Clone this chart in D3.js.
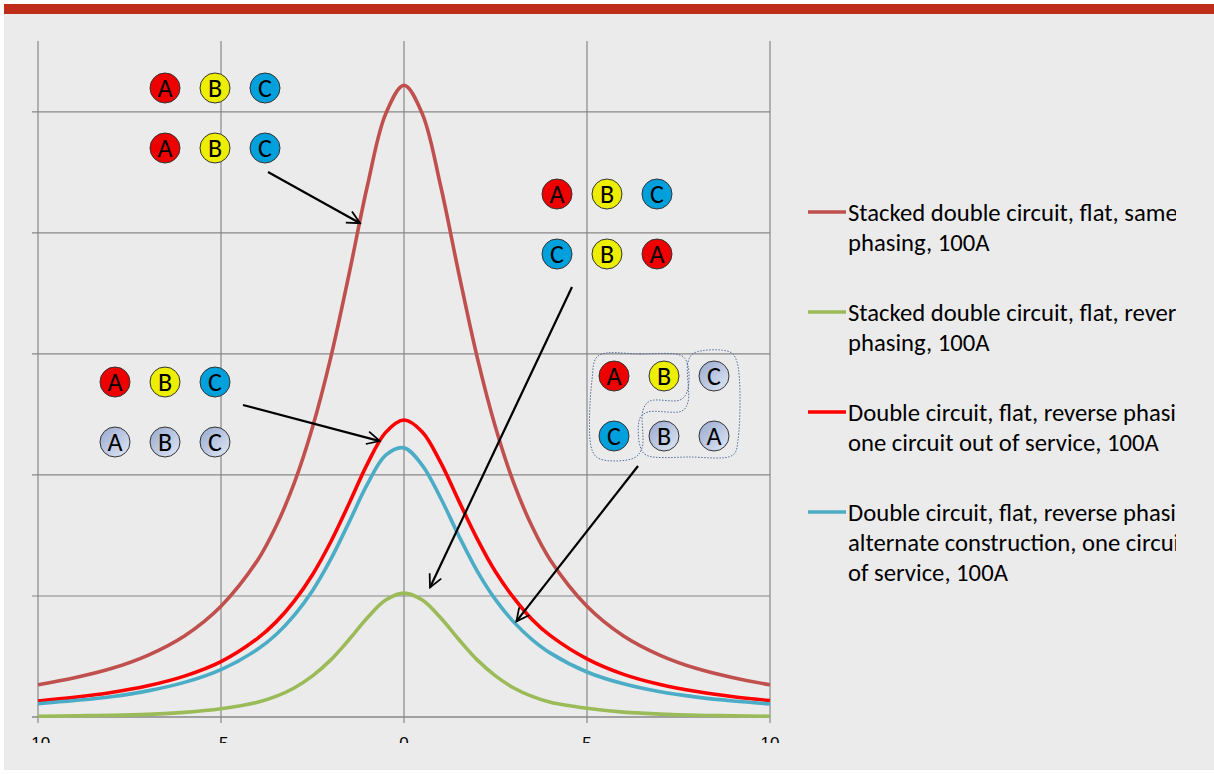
<!DOCTYPE html>
<html><head><meta charset="utf-8">
<script src="https://cdn.jsdelivr.net/npm/d3@7"></script>
<style>html,body{margin:0;padding:0;background:#fff;}svg{display:block;}</style>
</head><body>
<svg id="chart" width="1214" height="774"></svg>
<script>
// ---------- data ----------
const xValues = [-10,-9,-8,-7,-6,-5,-4,-3.5,-3,-2.5,-2,-1.5,-1,-0.5,0,0.5,1,1.5,2,2.5,3,3.5,4,5,6,7,8,9,10];
const stackedSame = [1.33,1.62,2.0,2.55,3.35,4.58,6.48,7.87,9.66,11.97,14.86,18.31,21.95,24.92,26.1,24.92,21.95,18.31,14.86,11.97,9.66,7.87,6.48,4.58,3.35,2.55,2.0,1.62,1.33];
const stackedReverse = [0.03,0.05,0.07,0.11,0.19,0.34,0.61,0.85,1.20,1.70,2.36,3.20,4.10,4.83,5.12,4.83,4.10,3.20,2.36,1.70,1.20,0.85,0.61,0.36,0.2,0.12,0.07,0.05,0.03];
const oneOut = [0.66,0.81,1.01,1.29,1.69,2.29,3.25,3.92,4.79,5.88,7.24,8.82,10.46,11.76,12.27,11.78,10.52,8.92,7.36,6.0,4.92,4.03,3.36,2.40,1.76,1.34,1.05,0.84,0.68];
const alternate = [0.55,0.68,0.84,1.08,1.43,1.96,2.80,3.40,4.20,5.22,6.52,8.05,9.62,10.82,11.12,10.40,9.05,7.48,6.03,4.85,3.92,3.20,2.64,1.86,1.37,1.04,0.82,0.66,0.54];
const xTicks = [-10,-5,0,5,10];
const yTicks = [0,5,10,15,20,25];
const seriesNames = [
  ["Stacked double circuit, flat, same", "phasing, 100A"],
  ["Stacked double circuit, flat, reverse", "phasing, 100A"],
  ["Double circuit, flat, reverse phasing,", "one circuit out of service, 100A"],
  ["Double circuit, flat, reverse phasing,", "alternate construction, one circuit out", "of service, 100A"]
];
const seriesColors = ["#C0504D", "#9BBB59", "#FF0000", "#4BACC6"];
const seriesData = [stackedSame, stackedReverse, oneOut, alternate];
// conductor arrangements (phase letters; "g" suffix = de-energised / grey)
const groupSame = [["A","B","C"],["A","B","C"]];
const groupReverse = [["A","B","C"],["C","B","A"]];
const groupOneOut = [["A","B","C"],["Ag","Bg","Cg"]];
const groupAlt = [["A","B","Cg"],["C","Bg","Ag"]];

// ---------- setup ----------
const svg = d3.select("#chart");
const W = 1214, H = 774;
svg.append("rect").attr("x",0).attr("y",0).attr("width",W).attr("height",H).attr("fill","#ffffff");
svg.append("rect").attr("x",4).attr("y",14).attr("width",W-4).attr("height",756).attr("fill","#ebebeb");
svg.append("rect").attr("x",4).attr("y",4).attr("width",W-4).attr("height",10).attr("fill","#be2e1a");

const defs = svg.append("defs");
const grad = defs.append("linearGradient").attr("id","greyBall").attr("x1","0").attr("y1","0").attr("x2","1").attr("y2","1");
grad.append("stop").attr("offset","0%").attr("stop-color","#97a9d0");
grad.append("stop").attr("offset","100%").attr("stop-color","#e2e8f4");
defs.append("clipPath").attr("id","xlabClip").append("rect").attr("x",0).attr("y",724).attr("width",800).attr("height",19);
defs.append("clipPath").attr("id","legClip").append("rect").attr("x",790).attr("y",150).attr("width",386).attr("height",500);
const mk = defs.append("marker").attr("id","arrow").attr("viewBox","0 0 20 20").attr("refX",18).attr("refY",10)
  .attr("markerWidth",16).attr("markerHeight",16).attr("markerUnits","userSpaceOnUse").attr("orient","auto");
mk.append("path").attr("d","M2,2 L18,10 L2,18").attr("fill","none").attr("stroke","#000").attr("stroke-width",2.2);

const x = d3.scaleLinear().domain([-10,10]).range([38,770]);
const y = d3.scaleLinear().domain([0,27.93]).range([717,41]);

// gridlines
const g = svg.append("g");
g.selectAll(".vg").data(xTicks).join("line")
  .attr("x1",d=>x(d)).attr("x2",d=>x(d)).attr("y1",y.range()[1]).attr("y2",723)
  .attr("stroke","#878787").attr("stroke-width",1.2);
g.selectAll(".hg").data(yTicks).join("line")
  .attr("x1",32).attr("x2",x(10)).attr("y1",d=>y(d)).attr("y2",d=>y(d))
  .attr("stroke","#878787").attr("stroke-width",d=>d===0?1.6:1.2);

// x tick labels (cut off at bottom as in the original)
svg.append("g").attr("clip-path","url(#xlabClip)").selectAll("text").data(xTicks).join("text")
  .attr("x",d=>x(d)).attr("y",749).attr("text-anchor","middle")
  .attr("font-family","Liberation Sans, Arial, sans-serif").attr("font-size",17).attr("fill","#000")
  .text(d=>d);

// series
const line = d3.line().x((d,i)=>x(xValues[i])).y(d=>y(d)).curve(d3.curveCatmullRom.alpha(0.5));
const order = [0,2,3,1];
svg.append("g").selectAll("path").data(order).join("path")
  .attr("d",k=>line(seriesData[k])).attr("fill","none")
  .attr("stroke",k=>seriesColors[k]).attr("stroke-width",3.6).attr("stroke-linejoin","round");

// legend
const legFont = "Carlito, Calibri, Lato, sans-serif";
const leg = svg.append("g");
const legTop = [212, 312, 412, 512];
const lineGap = 30;
let fs = 21;
const probe = svg.append("text").attr("font-family",legFont).attr("font-size",fs).text("one circuit out of service, 100A");
const pw = probe.node().getComputedTextLength();
probe.remove();
fs = fs * 311 / pw;
seriesNames.forEach((lines,k)=>{
  leg.append("line").attr("x1",808).attr("x2",846).attr("y1",legTop[k]).attr("y2",legTop[k])
    .attr("stroke",seriesColors[k]).attr("stroke-width",3.6);
  const t = leg.append("g").attr("clip-path","url(#legClip)");
  lines.forEach((s,j)=>{
    t.append("text").attr("x",848).attr("y",legTop[k]+j*lineGap).attr("dy","0.35em")
      .attr("font-family",legFont).attr("font-size",fs).attr("fill","#000").text(s);
  });
});

// conductor diagrams
const ballColor = {A:"#ee0000",B:"#eeee00",C:"#00a0dc"};
function drawGroup(rows, x0, y0, dx, dy){
  const gg = svg.append("g");
  rows.forEach((row,r)=>row.forEach((p,c)=>{
    const grey = p.endsWith("g");
    const cx = x0 + c*dx, cy = y0 + r*dy;
    gg.append("circle").attr("cx",cx).attr("cy",cy).attr("r",15)
      .attr("fill",grey?"url(#greyBall)":ballColor[p]).attr("stroke","#333").attr("stroke-width",1);
    gg.append("text").attr("x",cx).attr("y",cy).attr("dy","0.36em").attr("text-anchor","middle")
      .attr("font-family",legFont).attr("font-size",26).attr("fill","#000").text(p[0]);
  }));
}
drawGroup(groupSame, 165, 88, 50, 60);
drawGroup(groupReverse, 557, 194, 50, 60);
drawGroup(groupOneOut, 115, 382, 50, 60);
drawGroup(groupAlt, 614, 376, 50, 60);

// dotted outlines around group 4
const blob = d3.line().curve(d3.curveCatmullRomClosed.alpha(0.5));
const outlineA = [[598,356],[640,354],[682,356],[688,366],[687,392],[680,400],[650,401],[643,410],[642,448],[634,458],[600,459],[592,450],[592,380]];
const outlineB = [[694,353],[730,352],[737,362],[738,440],[733,455],[690,457],[646,455],[640,446],[640,418],[648,412],[682,411],[688,402],[688,362]];
[outlineA, outlineB].forEach(pts=>{
  svg.append("path").attr("d",blob(pts)).attr("fill","none").attr("stroke","#4f6d9a")
    .attr("stroke-width",1).attr("stroke-dasharray","1.5,1.5");
});

// arrows
const arrows = [
  {x1:268,y1:172,tx:-1.2,ty:20.4},
  {x1:572,y1:287,tx:0.71,ty:5.35},
  {x1:243,y1:405,tx:-0.66,ty:11.4},
  {x1:638,y1:466,tx:3.07,ty:3.95}
];
svg.append("g").selectAll("line").data(arrows).join("line")
  .attr("x1",d=>d.x1).attr("y1",d=>d.y1).attr("x2",d=>x(d.tx)).attr("y2",d=>y(d.ty))
  .attr("stroke","#000").attr("stroke-width",2.2).attr("marker-end","url(#arrow)");
</script>
</body></html>
